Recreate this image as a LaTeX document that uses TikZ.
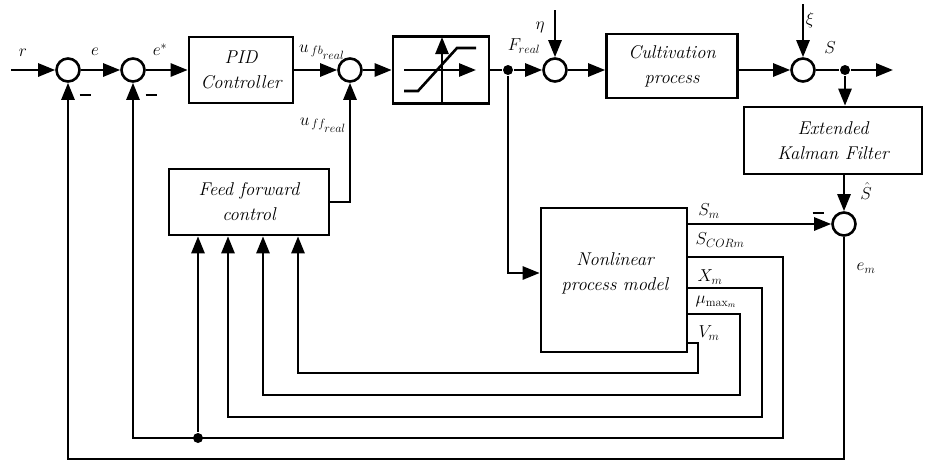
\documentclass[tikz,border=0pt]{standalone}
\usetikzlibrary{arrows.meta}
\newcommand\boxfont{\fontsize{18.5}{25}\selectfont\itshape}
\newcommand\lblfont{\fontsize{17}{19}\selectfont}
\begin{document}
\begin{tikzpicture}[x=1pt,y=-1pt,
  line width=2.6pt,
  >={Triangle[length=17pt,width=13pt]},
  blockbox/.style={draw,rectangle,inner sep=0pt,align=center,font=\boxfont},
  sumnode/.style={draw,circle,minimum size=23pt,inner sep=0pt},
  dotnode/.style={fill,circle,minimum size=10pt,inner sep=0pt},
  lbl/.style={font=\lblfont,inner sep=0pt},
  minusmark/.style={inner sep=0pt}]
\useasboundingbox (0,0) rectangle (925,461);

% ---- forward path ----
\coordinate (rin) at (11,70);
\node[sumnode] (s1) at (68,70) {};
\node[sumnode] (s2) at (133,70) {};
\node[blockbox,minimum width=104pt,minimum height=66pt] (pid) at (241,70) {PID\\Controller};
\node[sumnode] (s3) at (350,70) {};
\node[blockbox,minimum width=96pt,minimum height=67pt] (sat) at (441,70) {};
\node[dotnode] (jf) at (508,70) {};
\node[sumnode] (s4) at (555,70) {};
\coordinate (eta) at (555,10);
\node[blockbox,minimum width=131pt,minimum height=64pt] (cult) at (672,66) {Cultivation\\process};
\node[sumnode] (s5) at (803,70) {};
\coordinate (xi) at (803,4);
\node[dotnode] (js) at (845,70) {};
\coordinate (out) at (893,70);

% ---- estimator and model ----
\node[blockbox,minimum width=178pt,minimum height=67pt] (ekf) at (833,140.5) {Extended\\Kalman Filter};
\node[sumnode] (s6) at (844,224) {};
\node[blockbox,minimum width=146pt,minimum height=144pt] (nlm) at (614,280) {};
\node[font=\boxfont,align=center,inner sep=0pt] (nlmtext) at (615,273) {Nonlinear\\process model};
\node[blockbox,minimum width=160pt,minimum height=66pt] (ff) at (249,202) {Feed forward\\control};

% saturation characteristic
\draw[->] (404,70) -- (476,70);
\draw[->] (442,103.5) -- (442,37);
\draw (404,91) -- (418,91) -- (457,48) -- (476,48);

% ---- connectors, forward path ----
\draw[->] (rin) -- (s1);
\draw[->] (s1) -- (s2);
\draw[->] (s2) -- (pid);
\draw[->] (pid) -- (s3);
\draw[->] (s3) -- (sat);
\draw (sat) -- (jf);
\draw[->] (jf) -- (s4);
\draw[->] (eta) -- (s4);
\draw[->] (s4) -- (s4 -| cult.west);
\draw[->] (cult.east |- s5) -- (s5);
\draw[->] (xi) -- (s5);
\draw (s5) -- (js);
\draw[->] (js) -- (out);
\draw[->] (js) -- (js |- ekf.north);
\draw[->] (ekf.south -| s6) -- (s6);
\draw[->] (ff.east) -- (ff.east -| s3) -- (s3);

% model input
\coordinate (fb) at (508,273);
\draw[->] (jf) -- (fb) -- (fb -| nlm.west);

% model error
\draw[->] (nlm.east |- s6) -- (s6);
\coordinate (emb) at (844,459);
\draw[->] (s6) -- (emb) -| (s1);

% model outputs fed back
\coordinate (c1) at (783,257);
\coordinate (c2) at (783,438);
\draw[->] (nlm.east |- c1) -- (c1) -- (c2) -| (s2);
\node[dotnode] (jc) at (198,438) {};
\draw[->] (jc) -- (jc |- ff.south);

\coordinate (x1) at (762,288);
\coordinate (x2) at (762,417);
\coordinate (x3) at (228,417);
\draw[->] (nlm.east |- x1) -- (x1) -- (x2) -- (x3) -- (x3 |- ff.south);

\coordinate (u1) at (740,314);
\coordinate (u2) at (740,395);
\coordinate (u3) at (263,395);
\draw[->] (nlm.east |- u1) -- (u1) -- (u2) -- (u3) -- (u3 |- ff.south);

\coordinate (v1) at (698,343);
\coordinate (v2) at (698,373);
\coordinate (v3) at (298,373);
\draw[->] (nlm.east |- v1) -- (v1) -- (v2) -- (v3) -- (v3 |- ff.south);

% ---- labels ----
\node[lbl] (lr) at (23,53) {$r$};
\node[lbl] (le) at (95,52) {$e$};
\node[lbl] (les) at (160,50) {$e^*$};
\node[minusmark] (m1) at (85,95) {\rule{11pt}{2.4pt}};
\node[minusmark] (m2) at (151,95) {\rule{11pt}{2.4pt}};
\node[minusmark] (m6) at (818,213) {\rule{11pt}{2.4pt}};
\node[lbl] (lufb) at (322,52) {$u_{\,fb_{\scriptstyle real}}$};
\node[lbl] (luff) at (323,125) {$u_{\,ff_{\scriptstyle real}}$};
\node[lbl] (lF) at (524,46) {$F_{real}$};
\node[lbl] (leta) at (540,27) {$\eta$};
\node[lbl] (lxi) at (810,20) {$\xi$};
\node[lbl] (lS) at (830,48) {$S$};
\node[lbl] (lSh) at (866,191) {$\hat S$};
\node[lbl] (lSm) at (709,211) {$S_m$};
\node[lbl] (lScor) at (720,240) {$S_{CORm}$};
\node[lbl] (lXm) at (710,277) {$X_m$};
\node[lbl] (lmu) at (716,302) {$\mu_{\max_m}$};
\node[lbl] (lVm) at (709,333) {$V_m$};
\node[lbl] (lem) at (866,268) {$e_m$};
\end{tikzpicture}
\end{document}
